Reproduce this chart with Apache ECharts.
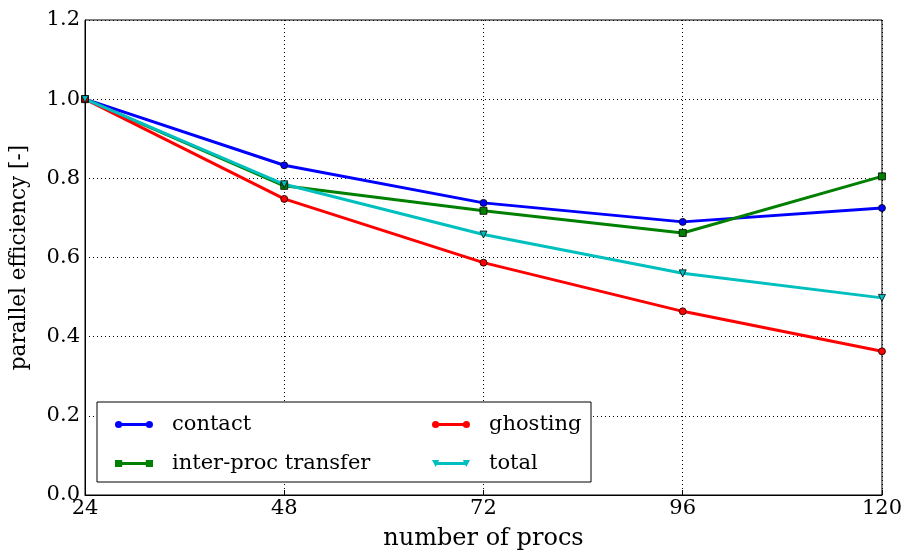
<!DOCTYPE html>
<html><head><meta charset="utf-8">
<script src="https://cdn.jsdelivr.net/npm/echarts@6/dist/echarts.min.js"></script>
<style>html,body{margin:0;padding:0;background:#fff}#c{width:905px;height:556px}</style>
</head><body><div id="c"></div>
<script>
const procs = ['24', '48', '72', '96', '120'];
const contact = [1.0, 0.833, 0.738, 0.690, 0.725];
const interProc = [1.0, 0.781, 0.718, 0.662, 0.805];
const ghosting = [1.0, 0.748, 0.587, 0.464, 0.363];
const total = [1.0, 0.785, 0.658, 0.560, 0.498];
const yTicks = [0.0, 0.2, 0.4, 0.6, 0.8, 1.0, 1.2];

const FONT = 'DejaVu Serif';
const circIcon = 'path://M0.5,5 A3.5,3.5 0 1 1 7.5,5 A3.5,3.5 0 1 1 0.5,5 Z M30.5,5 A3.5,3.5 0 1 1 37.5,5 A3.5,3.5 0 1 1 30.5,5 Z M4,3.6 L34,3.6 L34,6.4 L4,6.4 Z';
const sqIcon = 'path://M0.5,1.5 L7.5,1.5 L7.5,8.5 L0.5,8.5 Z M30.5,1.5 L37.5,1.5 L37.5,8.5 L30.5,8.5 Z M4,3.6 L34,3.6 L34,6.4 L4,6.4 Z';
const triIcon = 'path://M0.5,1.5 L7.5,1.5 L4,8.5 Z M30.5,1.5 L37.5,1.5 L34,8.5 Z M4,3.6 L34,3.6 L34,6.4 L4,6.4 Z';

function mk(name, data, color, symbol, rot) {
  return {
    name, type: 'line', data, symbol, symbolSize: 7,
    symbolRotate: rot || 0,
    lineStyle: { color, width: 3 },
    itemStyle: { color, borderColor: '#000', borderWidth: 0.8 },
    emphasis: { disabled: true }, animation: false, z: 3
  };
}

const legendCommon = {
  orient: 'vertical', top: 409, itemWidth: 38, itemHeight: 10, itemGap: 18, z: 30,
  itemStyle: { borderWidth: 0 }, lineStyle: { width: 0 },
  textStyle: { fontFamily: FONT, fontSize: 21, color: '#000', padding: [0, 0, 0, 14] },
  selectedMode: false
};

const chart = echarts.init(document.getElementById('c'));
chart.setOption({
  animation: false,
  backgroundColor: '#fff',
  grid: { left: 85, right: 22, top: 20, bottom: 61, show: true, borderColor: '#000', borderWidth: 1 },
  xAxis: {
    type: 'category', data: procs, boundaryGap: false,
    name: 'number of procs', nameLocation: 'middle', nameGap: 32,
    nameTextStyle: { fontFamily: FONT, fontSize: 24, color: '#000' },
    axisLine: { show: true, lineStyle: { color: '#000' } },
    axisTick: { inside: true, length: 5, lineStyle: { color: '#000' } },
    axisLabel: { fontFamily: FONT, fontSize: 21, color: '#000', margin: 3 },
    splitLine: { show: true, lineStyle: { color: '#000', type: [1, 3], width: 1 } }
  },
  yAxis: {
    type: 'value', min: 0, max: 1.2, interval: 0.2,
    name: 'parallel efficiency [-]', nameLocation: 'middle', nameGap: 55, nameRotate: 90,
    nameTextStyle: { fontFamily: FONT, fontSize: 21.5, color: '#000' },
    axisLine: { show: true, lineStyle: { color: '#000' } },
    axisTick: { inside: true, length: 5, lineStyle: { color: '#000' } },
    axisLabel: { fontFamily: FONT, fontSize: 21, color: '#000', margin: 5,
      formatter: v => { const t = yTicks.find(x => Math.abs(x - v) < 1e-6); return (t !== undefined ? t : v).toFixed(1); } },
    splitLine: { show: true, lineStyle: { color: '#000', type: [1, 3], width: 1 } }
  },
  legend: [
    Object.assign({}, legendCommon, { left: 110,
      data: [{ name: 'contact', icon: circIcon }, { name: 'inter-proc transfer', icon: sqIcon }] }),
    Object.assign({}, legendCommon, { left: 427,
      data: [{ name: 'ghosting', icon: circIcon }, { name: 'total', icon: triIcon }] })
  ],
  graphic: [{ type: 'rect', shape: { x: 97, y: 402, width: 494, height: 80 },
    style: { fill: '#fff', stroke: '#000', lineWidth: 1 }, z: 5 }],
  series: [
    mk('contact', contact, '#0000ff', 'circle'),
    mk('inter-proc transfer', interProc, '#008000', 'rect'),
    mk('ghosting', ghosting, '#ff0000', 'circle'),
    mk('total', total, '#00bfbf', 'triangle', 180)
  ]
});
</script></body></html>
